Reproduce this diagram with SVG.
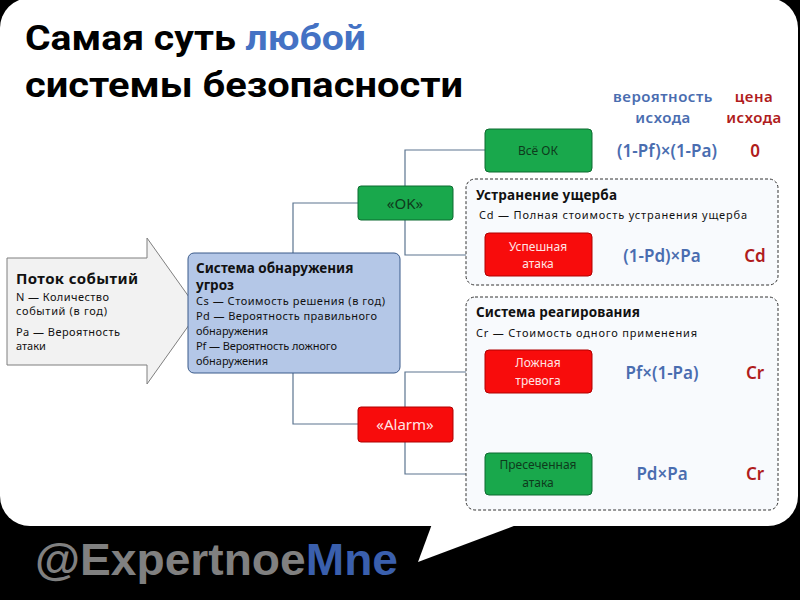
<svg xmlns="http://www.w3.org/2000/svg" width="800" height="600" viewBox="0 0 800 600">
<style>
.t{font-family:"Noto Sans","DejaVu Sans",sans-serif}
.title{font-family:Roboto,"Liberation Sans",sans-serif;font-weight:700;font-size:35px;fill:#000}
.h{font-size:15px;font-weight:600;letter-spacing:0.5px;text-anchor:middle}
.blue{fill:#4a6db0}
.red{fill:#b01c1c}
.f{font-size:17px;font-weight:600;text-anchor:middle}
.b{font-weight:700;font-size:13.5px;fill:#111}
.s{font-size:11px;fill:#111}
.conn{fill:none;stroke:#5c7590;stroke-width:1.2}
.green{fill:#19a84c;stroke:#0d6b30;stroke-width:1}
.redbox{fill:#f80c0c;stroke:#b00000;stroke-width:1}
.dash{fill:#f8fafd;stroke:#333;stroke-width:1;stroke-dasharray:3 2}
.lbl{font-size:12px;text-anchor:middle}
</style>
<rect x="0" y="0" width="800" height="600" fill="#000"/>
<g id="bubble">
<rect x="0" y="-2" width="798" height="528" rx="30" fill="#fff"/>
<polygon points="432,524 418,562 519,524" fill="#fff"/>
</g>
<g id="title">
<text class="title" x="25" y="50" textLength="341" lengthAdjust="spacingAndGlyphs">Самая суть <tspan fill="#4472c4">любой</tspan></text>
<text class="title" x="25" y="97" textLength="438" lengthAdjust="spacingAndGlyphs">системы безопасности</text>
</g>
<g id="headers" class="t">
<text class="h blue" x="663" y="102">вероятность</text>
<text class="h blue" x="663" y="123">исхода</text>
<text class="h red" x="754" y="102">цена</text>
<text class="h red" x="754" y="123">исхода</text>
</g>
<g id="connectors">
<path class="conn" d="M293,253 V203 H358"/>
<path class="conn" d="M293,373 V424 H358"/>
<path class="conn" d="M405,220 V150 H485 M405,220 V255 H485"/>
<path class="conn" d="M405,442 V372 H485 M405,442 V474 H485"/>
</g>
<g id="containers">
<rect class="dash" x="466" y="179" width="312" height="106" rx="9"/>
<rect class="dash" x="466" y="297" width="312" height="213" rx="9"/>
</g>
<g id="flow" class="t">
<polygon points="7,258 147,258 147,238 199,311 147,384 147,365 7,365" fill="#f2f2f2" stroke="#7f7f7f" stroke-width="1"/>
<text x="16" y="284" font-weight="700" font-size="15" fill="#111" textLength="122">Поток событий</text>
<text class="s" x="16" y="301" textLength="93">N — Количество</text>
<text class="s" x="16" y="315" textLength="91">событий (в год)</text>
<text class="s" x="16" y="336" textLength="104">Pa — Вероятность</text>
<text class="s" x="16" y="350">атаки</text>
</g>
<g id="detector" class="t">
<rect x="188" y="253" width="212" height="120" rx="6" fill="#b4c7e7" stroke="#3a5a8a" stroke-width="1"/>
<text class="b" x="196" y="273" font-size="15">Система обнаружения</text>
<text class="b" x="196" y="290" font-size="15">угроз</text>
<text class="s" x="196" y="305" textLength="189">Cs — Стоимость решения (в год)</text>
<text class="s" x="196" y="320" textLength="181">Pd — Вероятность правильного</text>
<text class="s" x="196" y="335">обнаружения</text>
<text class="s" x="196" y="350" textLength="141">Pf — Вероятность ложного</text>
<text class="s" x="196" y="365">обнаружения</text>
</g>
<g id="ok" class="t">
<rect class="green" x="358" y="186" width="95" height="34" rx="3"/>
<text x="405" y="209" font-size="15" text-anchor="middle" fill="#0e3a1c">«OK»</text>
</g>
<g id="alarm" class="t">
<rect class="redbox" x="358" y="407" width="95" height="35" rx="3"/>
<text x="405" y="430" font-size="15" text-anchor="middle" fill="#ffe4e4">«Alarm»</text>
</g>
<g id="all-ok" class="t">
<rect class="green" x="485" y="129" width="107" height="43" rx="4"/>
<text class="lbl" x="538" y="155" fill="#0e3a1c">Всё ОК</text>
<text class="f blue" x="667" y="157">(1-Pf)×(1-Pa)</text>
<text class="f red" x="755" y="157">0</text>
</g>
<g id="damage" class="t">
<text class="b" x="476" y="200" textLength="141">Устранение ущерба</text>
<text class="s" x="479" y="219" textLength="268">Cd — Полная стоимость устранения ущерба</text>
</g>
<g id="success-attack" class="t">
<rect class="redbox" x="485" y="233" width="107" height="43" rx="4"/>
<text class="lbl" x="538" y="251" fill="#ffe4e4">Успешная</text>
<text class="lbl" x="538" y="268" fill="#ffe4e4">атака</text>
<text class="f blue" x="662" y="262">(1-Pd)×Pa</text>
<text class="f red" x="755" y="262">Cd</text>
</g>
<g id="response" class="t">
<text class="b" x="476" y="317" textLength="164">Система реагирования</text>
<text class="s" x="476" y="337" textLength="221">Cr — Стоимость одного применения</text>
</g>
<g id="false-alarm" class="t">
<rect class="redbox" x="485" y="350" width="107" height="43" rx="4"/>
<text class="lbl" x="538" y="367" fill="#ffe4e4">Ложная</text>
<text class="lbl" x="538" y="385" fill="#ffe4e4">тревога</text>
<text class="f blue" x="662" y="379">Pf×(1-Pa)</text>
<text class="f red" x="755" y="379">Cr</text>
</g>
<g id="stopped-attack" class="t">
<rect class="green" x="485" y="453" width="107" height="42" rx="4"/>
<text class="lbl" x="538" y="469" fill="#0e3a1c">Пресеченная</text>
<text class="lbl" x="538" y="487" fill="#0e3a1c">атака</text>
<text class="f blue" x="662" y="480">Pd×Pa</text>
<text class="f red" x="755" y="480">Cr</text>
</g>
<g id="watermark">
<text x="35" y="575" font-family="'Liberation Sans',Arial,sans-serif" font-weight="700" font-size="45" fill="#808080" textLength="363" lengthAdjust="spacingAndGlyphs">@Expertnoe<tspan fill="#3a5fad">Mne</tspan></text>
</g>
</svg>
